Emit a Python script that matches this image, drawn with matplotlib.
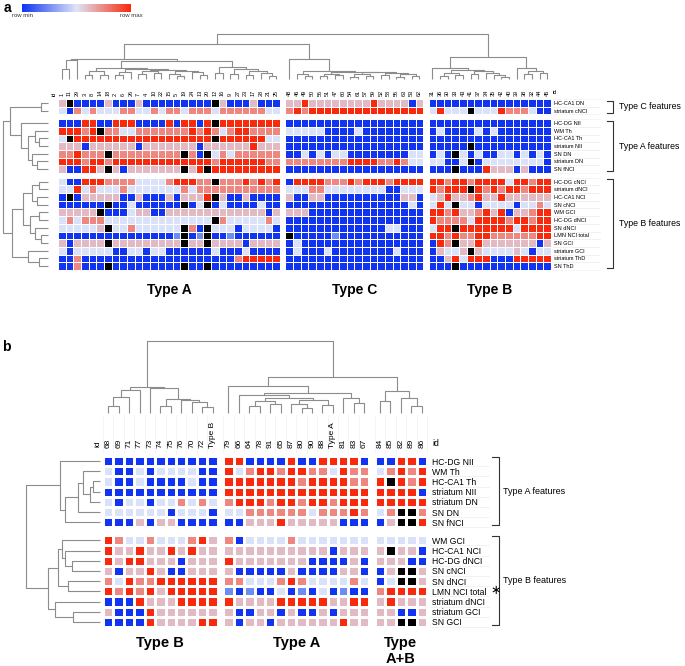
import numpy as np
import matplotlib.pyplot as plt
import matplotlib.transforms as mtransforms
from matplotlib.colors import LinearSegmentedColormap

plt.rcParams['font.family'] = ['Liberation Sans', 'DejaVu Sans']

W, H = 685, 666

# cell codes: b = row min (blue), m = mid blue, l = light blue, p = pink,
# s = salmon, r = row max (red), k = missing (black)
LEVEL = {'b': 0.0, 'm': 0.5, 'l': 1.0, 'p': 2.0, 's': 3.0, 'r': 4.0, 'k': np.nan}

# ---------------- panel a ----------------
a_rows = ['HC-CA1 DN', 'striatum cNCI',
          'HC-DG NII', 'WM Th', 'HC-CA1 Th', 'striatum NII', 'SN DN', 'striatum DN', 'SN fNCI',
          'HC-DG cNCI', 'striatum dNCI', 'HC-CA1 NCI', 'SN cNCI', 'WM GCI', 'HC-DG dNCI',
          'SN dNCI', 'LMN NCI total', 'SN GCI', 'striatum GCI', 'striatum ThD', 'SN ThD']
a_group_sizes = [2, 7, 12]
a_group_names = ['Type C features', 'Type A features', 'Type B features']

a_ids_A = ['1', '11', '29', '3', '8', '14', '18', '2', '6', '26', '7', '4', '10', '22', '15',
           '5', '19', '24', '13', '20', '12', '16', '9', '27', '23', '17', '28', '21', '25']
a_ids_C = ['48', '46', '49', '50', '56', '51', '47', '60', '54', '61', '57', '59', '52', '58',
           '55', '63', '53', '62']
a_ids_B = ['31', '36', '30', '33', '43', '41', '37', '34', '35', '42', '40', '39', '38', '32',
           '44', '45']
a_types = ['Type A', 'Type C', 'Type B']

a_A = ['pkbbbbpbbb' 'pbbbbbbbbb' 'kpbbbpbbb',
       'lbslslllss' 'llslsslsss' 'lssssssll',
       'bbbrrbbrrr' 'bbbbrbrrbr' 'krrrrrrrr',
       'rrrsrkssll' 'sssssssrsr' 'slsrrssss',
       'lkrrrrrrrr' 'rrrrrrrrrr' 'krrrrrrll',
       'pppbpppppp' 'bpppppppbp' 'ppppprppp',
       'ssrsssksss' 'ssssssksbk' 'lslssssss',
       'rrrsrrsrrr' 'rrrrrrrrrr' 'srrrrrrss',
       'pbbrrpkpbp' 'ppppppkprk' 'rrrrrrrrr',
       'lbbrrrssss' 'llllsrrrss' 'ksssrsrsr',
       'llrlslllsl' 'llllllslss' 'sssssssss',
       'bkbpppppbb' 'pbbbpbpppr' 'kpbbpbbbb',
       'bbbbbbkbbl' 'bbbbbbkblk' 'blbbbblbb',
       'pppppkbbbl' 'ppbbpppppp' 'pppppppbp',
       'lslsssllll' 'llllllllll' 'kslllllsl',
       'lllllpklls' 'llllllksbk' 'lllbllllb',
       'bbbbbbbbbb' 'bbbbbmkbmk' 'bbmbbbbbb',
       'pbppppkppp' 'ppppppkppk' 'ppppbpppp',
       'lblllllbbl' 'lbllbbbbbb' 'lbbblbbbb',
       'bbsbbbbbbb' 'bbbbbbbbbb' 'bbbsrrrrr',
       'bbsbbbkbbb' 'bbbbbbkbbk' 'bbbbbbbbb']

a_C = ['pprppppppp' 'prppppbp',
       'srsrrrrrrr' 'rrrrrrrr',
       'bbbbbbbbbb' 'bbbbbbbb',
       'lllllbbbbl' 'bbbbbbbb',
       'bbbbbbbbbb' 'bbbbbbbb',
       'bbbbbbbbbb' 'bbbbbbbb',
       'bblblbllbb' 'bbbbbbll',
       'ssssssssrr' 'rrssrsll',
       'bbbbbbbbbb' 'bbbbbbbb',
       'brrrrsssrs' 'rrrsrrrr',
       'lllsslllll' 'lllbblll',
       'pbbppbbbbb' 'bbbbbppb',
       'bbbbbbbbbb' 'bbbbbblb',
       'pppbbbbbbb' 'bbbbbbbb',
       'bbbbbbbbbb' 'bbbbbbbb',
       'bbbbbbbbbb' 'bbbllbbb',
       'kbbbbbmbbb' 'bbbbbbbb',
       'blbbbbbbbb' 'bbbbbbbb',
       'blbbblbbbb' 'bbbblbbb',
       'bbbbbbbbbb' 'bbbbbbbb',
       'bbbbbbbbbb' 'bbbbbbbb']

a_B = ['bbbbbbbbbb' 'bbbbbb',
       'lrlllklllr' 'ssslbb',
       'bbbbbbbbbb' 'bbbbbb',
       'blbbbblblb' 'bbbbbb',
       'bbbbbbbbbb' 'bbbbbb',
       'bbbbbkbbbb' 'bbbbbb',
       'blbklblbbl' 'lblblb',
       'llbblkblll' 'lllllb',
       'bbbkbbbrpp' 'pbpbbb',
       'rrsrrsrrrr' 'lrrsrr',
       'rsrrrkrsrs' 'rrsrrr',
       'lprppsrppr' 'pppppp',
       'lrlkllblll' 'lbllsl',
       'rrsrppsrpr' 'bppsrr',
       'rsssslrrrr' 'srrsrr',
       'lrrkrrrrrr' 'rlrrrr',
       'rrsrssrrss' 'ssssrr',
       'brskpprppp' 'ppppbp',
       'bpllpkplll' 'lplbll',
       'bbprlrrrbb' 'brrrrr',
       'bbbkbbbbbb' 'bbbbbb']

# dendrograms: [merge height, left, right]; leaves are display positions
a_col_tree = [45,
              [35,
               [20, [19.5, [10, 0, 1], 2],
                [18,
                 [11, [8, [4, 3, 4], [4, 5, 6]],
                  [10, [7, [4.5, 7, 8], 9],
                   [9.5, [8, [5, 10, 11], [6, 12, 13]],
                    [8.5, [5, 14, [3, 15, 16]], [7, 17, [4, 18, 19]]]]]],
                 [12, [6, 20, 21],
                  [10, [5, 22, 23], [8, [4, 24, 25], [6, 26, [3, 27, 28]]]]]]],
               [20, 29,
                [8, [5, 30, [3, 31, 32]],
                 [7.5, [5, [3, 33, 34], [4, 35, 36]],
                  [7, [5, [2.5, 37, 38], [3, 39, 40]],
                   [6, [4, 41, 42], [5, [2.5, 43, 44], [3, 45, 46]]]]]]]],
              [22,
               [11, 47,
                [9, [6, [3.5, 48, 49], [4.5, 50, 51]],
                 [8, [5, 52, 53], [6, 54, [4, 55, [2.5, 56, 57]]]]]],
               [11, 58, [8, [5, 59, 60], [6, 61, 62]]]]]

a_row_tree = [45,
              [38, [7, 0, 1],
               [27, 2, [20, [13, 3, [9, 4, 5]], [16, 6, [11, 7, 8]]]]],
              [36,
               [25, [16, [9, 9, 10], [11, 11, 12]],
                [18, [9, 13, 14], [13, 15, [7, 16, 17]]]],
               [20, 18, [9, 19, 20]]]]

# ---------------- panel b ----------------
b_rows = ['HC-DG NII', 'WM Th', 'HC-CA1 Th', 'striatum NII', 'striatum DN', 'SN DN', 'SN fNCI',
          'WM GCI', 'HC-CA1 NCI', 'HC-DG dNCI', 'SN cNCI', 'SN dNCI', 'LMN NCI total',
          'striatum dNCI', 'striatum GCI', 'SN GCI']
b_group_sizes = [7, 9]
b_group_names = ['Type A features', 'Type B features']

b_ids_B = ['68', '69', '71', '77', '73', '74', '75', '76', '70', '72', 'Type B']
b_ids_A = ['79', '66', '64', '78', '91', '65', '87', '80', '90', '88', 'Type A', '81', '83', '67']
b_ids_AB = ['84', '85', '82', '89', '86']
b_types = ['Type B', 'Type A', 'Type\nA+B']

b_B = ['bbbbbbbbbbb',
       'lbblbllllbb',
       'lbblbbbblbb',
       'bbbbbbbbbbb',
       'lbllbllslsl',
       'llllllblllb',
       'bbbpbppbbbb',
       'rsllslllsrp',
       'rpprpprprpp',
       'rprrpppbppp',
       'pbpprpbbppp',
       'slrssrrrrrr',
       'rsrsrprrrrr',
       'bbbrppprrrr',
       'pbbbrpppppp',
       'bbbbrpppprr']

b_A = ['rrbbbbrbbrrrrb',
       'rlsrrsrrsslrss',
       'rrrrrrrsrrrrss',
       'rrrrrrrrrrrrrr',
       'srrrsrrsrrsrrr',
       'llsssssslsssrs',
       'bbppprpppppbbb',
       'sbllllslllllll',
       'ppppppppppbppp',
       'rpppppppbbbbpb',
       'pbbbbbpbbbbppb',
       'sslllsrsllllsl',
       'mbmbblbmblbmbb',
       'rpppprrrrrpprr',
       'pbbppbpbbpbppp',
       'pbppbpppppprpp']

b_AB = ['bbrrb',
        'lsrsr',
        'rkrsr',
        'rrrrb',
        'rrrrr',
        'lskks',
        'bpkkr',
        'lllll',
        'pkppb',
        'pppbb',
        'bpkkp',
        'blkkp',
        'srrrr',
        'prppp',
        'ppbbp',
        'ppkkp']

b_col_tree = [72,
              [26, [23, [16, [7, 0, 1], 2], 3],
               [25, 4, [14, [7, 5, 6], [13, 7, [11, 8, [6, 9, 10]]]]]],
              [36,
               [27, 11,
                [20, [18, 12, [15, [12, [7, 13, 14], [9, 15, 16]],
                               [13, [9, 17, [5, 18, 19]], [8, 20, 21]]]],
                 [15, 22, [10, 23, 24]]]],
               [22, [12, 25, 26], [15, 27, [7, 28, 29]]]]]

b_row_tree = [74,
              [40, 0, [35, [22, [17, 1, [10, [7, 2, 3], 4]], 5], 6]],
              [52,
               [42, [38, 7, [35, 8, [28, 9, 10]]], [32, 11, 12]],
               [45, 13, [27, 14, 15]]]]

# ---------------- drawing helpers ----------------
heat_cmap = LinearSegmentedColormap.from_list(
    'rowscale', [(0.0, '#1034f2'), (0.125, '#6d8cf4'), (0.25, '#d9e2f9'),
                 (0.5, '#e2bac4'), (0.75, '#ee8880'), (1.0, '#f9290d')])
heat_cmap.set_bad('black')
bar_cmap = LinearSegmentedColormap.from_list('bar', ['#1034f2', '#dfe5f6', '#f9290d'])

LINE = '#8c8c8c'


def px_axes(fig, x0, y0, x1, y1):
    return fig.add_axes([x0 / W, 1 - y1 / H, (x1 - x0) / W, (y1 - y0) / H])


def codes(rows):
    return np.array([[LEVEL[c] for c in s] for s in rows])


def dendro(ax, node, pos, horizontal=False):
    if isinstance(node, int):
        return pos[node], 0.0
    h, left, right = node
    p1, h1 = dendro(ax, left, pos, horizontal)
    p2, h2 = dendro(ax, right, pos, horizontal)
    xs = [p1, p1, p2, p2]
    ys = [h1, h, h, h2]
    if horizontal:
        xs, ys = ys, xs
    ax.plot(xs, ys, color=LINE, lw=0.8, solid_capstyle='butt', clip_on=False)
    return (p1 + p2) / 2, h


def clean(ax):
    for s in ax.spines.values():
        s.set_visible(False)


def heat_panel(fig, box, blocks, ids, group_sizes, gx, gy, edge_lw, lab_size, col_pad,
               row_pad):
    ax = px_axes(fig, *box)
    clean(ax)
    nrow = sum(group_sizes)
    row_start = np.cumsum([0] + group_sizes[:-1])
    col_pos, col_lab, block_centres = [], [], []
    c0 = 0
    for bi, (blk, lab) in enumerate(zip(blocks, ids)):
        mat = codes(blk)
        ncol = mat.shape[1]
        xoff = c0 + bi * gx
        xe = xoff + np.arange(ncol + 1)
        for gi, (r0, n) in enumerate(zip(row_start, group_sizes)):
            ye = r0 + gi * gy + np.arange(n + 1)
            ax.pcolormesh(xe, ye, np.ma.masked_invalid(mat[r0:r0 + n]), cmap=heat_cmap,
                          vmin=0, vmax=4, edgecolors='white', linewidth=edge_lw)
        col_pos += list(xoff + np.arange(ncol) + 0.5)
        col_lab += lab
        block_centres.append(xoff + ncol / 2)
        c0 += ncol
    xmax = c0 + (len(blocks) - 1) * gx
    ymax = nrow + (len(group_sizes) - 1) * gy
    row_pos = []
    for gi, (r0, n) in enumerate(zip(row_start, group_sizes)):
        row_pos += list(r0 + gi * gy + np.arange(n) + 0.5)
    ax.set_xlim(0, xmax)
    ax.set_ylim(ymax, 0)
    ax.xaxis.tick_top()
    ax.set_xticks(col_pos)
    ax.set_xticklabels(col_lab, rotation=90, fontsize=lab_size, va='bottom')
    ax.yaxis.tick_right()
    ax.set_yticks(row_pos)
    ax.tick_params(axis='x', length=0, pad=col_pad)
    ax.tick_params(axis='y', length=0, pad=row_pad)
    return ax, np.array(col_pos), np.array(row_pos), block_centres, row_start


def bracket(ax, y0, y1, x_tick, x_line, x_text, text, size):
    tr = mtransforms.blended_transform_factory(ax.transAxes, ax.transData)
    ax.plot([x_tick, x_line, x_line, x_tick], [y0, y0, y1, y1], color='#333333', lw=0.8,
            transform=tr, clip_on=False)
    ax.text(x_text, (y0 + y1) / 2, text, transform=tr, fontsize=size, va='center', ha='left')


fig = plt.figure(figsize=(W / 100, H / 100), dpi=100)

# ---------------- panel a ----------------
fig.text(4 / W, 1 - 1 / H, 'a', fontsize=10, fontweight='bold', va='top')
ax_bar = px_axes(fig, 22, 4, 131, 12)
ax_bar.imshow(np.linspace(0, 1, 256)[None, :], aspect='auto', cmap=bar_cmap)
ax_bar.axis('off')
fig.text(22 / W, 1 - 13 / H, 'row min', fontsize=4.3, ha='center', va='top', color='#333333')
fig.text(131 / W, 1 - 13 / H, 'row max', fontsize=4.3, ha='center', va='top', color='#333333')

ax_a, a_cols, a_rpos, a_cent, a_rstart = heat_panel(
    fig, (58, 99, 551, 270), [a_A, a_C, a_B], [a_ids_A, a_ids_C, a_ids_B],
    a_group_sizes, 0.7, 0.62, 0.55, 4.0, 2.0, 2.5)
ax_a.set_yticklabels(a_rows, fontsize=4.0)
ax_a.text(-0.55, -0.4, 'id', rotation=90, fontsize=4.0, ha='center', va='bottom')
tr = mtransforms.blended_transform_factory(ax_a.transAxes, ax_a.transData)
ax_a.text(1.004, -0.55, 'id', fontsize=4.0, ha='left', va='bottom', transform=tr)
for y in np.concatenate([a_rpos - 0.5, a_rpos + 0.5]):
    ax_a.plot([1.004, 1.1], [y, y], color='#eeeeee', lw=0.4, transform=tr, clip_on=False,
              zorder=0)
for gi, (n, name) in enumerate(zip(a_group_sizes, a_group_names)):
    y0 = a_rstart[gi] + gi * 0.62
    bracket(ax_a, y0 + 0.2, y0 + n - 0.2, 1.114, 1.126, 1.138, name, 6.3)
tra = mtransforms.blended_transform_factory(ax_a.transData, ax_a.transAxes)
for c, t in zip(a_cent, a_types):
    ax_a.text(c, -0.115, t, transform=tra, fontsize=10, fontweight='bold', ha='center',
              va='center')

ax_ad = px_axes(fig, 58, 30, 551, 79)
dendro(ax_ad, a_col_tree, a_cols)
ax_ad.set_xlim(ax_a.get_xlim())
ax_ad.set_ylim(0, 49)
ax_ad.axis('off')

ax_ar = px_axes(fig, 2, 99, 48, 270)
dendro(ax_ar, a_row_tree, a_rpos, horizontal=True)
ax_ar.set_ylim(ax_a.get_ylim())
ax_ar.set_xlim(46, 0)
ax_ar.axis('off')

# ---------------- panel b ----------------
fig.text(2 / W, 1 - 340 / H, 'b', fontsize=10, fontweight='bold', va='top')
ax_b, b_cols, b_rpos, b_cent, b_rstart = heat_panel(
    fig, (103, 456, 427, 627), [b_B, b_A, b_AB], [b_ids_B, b_ids_A, b_ids_AB],
    b_group_sizes, 0.53, 0.78, 0.8, 6.0, 6.0, 3.5)
ax_b.set_yticklabels(b_rows, fontsize=6.2)
ax_b.text(-0.5, -0.85, 'id', rotation=90, fontsize=6.0, ha='center', va='bottom')
trb = mtransforms.blended_transform_factory(ax_b.transAxes, ax_b.transData)
ax_b.text(1.016, -0.75, 'id', fontsize=6.2, ha='left', va='bottom', transform=trb)
ax_b.text(1.195, b_rpos[b_rows.index('LMN NCI total')], '\u2217', fontsize=9,
          ha='left', va='center', transform=trb)
for y in b_rpos + 0.5:
    ax_b.plot([1.01, 1.19], [y, y], color='#eeeeee', lw=0.5, transform=trb, clip_on=False,
              zorder=0)
trc = mtransforms.blended_transform_factory(ax_b.transData, ax_b.transAxes)
for x in np.concatenate([b_cols - 0.5, [b_cols[-1] + 0.5]]):
    ax_b.plot([x, x], [1.02, 1.24], color='#f0f0f0', lw=0.5, transform=trc, clip_on=False,
              zorder=0)
for gi, (n, name) in enumerate(zip(b_group_sizes, b_group_names)):
    y0 = b_rstart[gi] + gi * 0.78
    bracket(ax_b, y0 + 0.1, y0 + n - 0.2, 1.2, 1.222, 1.235, name, 6.5)
for c, t in zip(b_cent, b_types):
    ax_b.text(c, -0.052, t, transform=trc, fontsize=10.5, fontweight='bold', ha='center',
              va='top', linespacing=1.15)

ax_bd = px_axes(fig, 103, 340, 427, 413)
dendro(ax_bd, b_col_tree, b_cols)
ax_bd.set_xlim(ax_b.get_xlim())
ax_bd.set_ylim(0, 73)
ax_bd.axis('off')

ax_br = px_axes(fig, 25, 456, 100, 627)
dendro(ax_br, b_row_tree, b_rpos, horizontal=True)
ax_br.set_ylim(ax_b.get_ylim())
ax_br.set_xlim(75, 0)
ax_br.axis('off')

fig.savefig('out.png', dpi=100)
